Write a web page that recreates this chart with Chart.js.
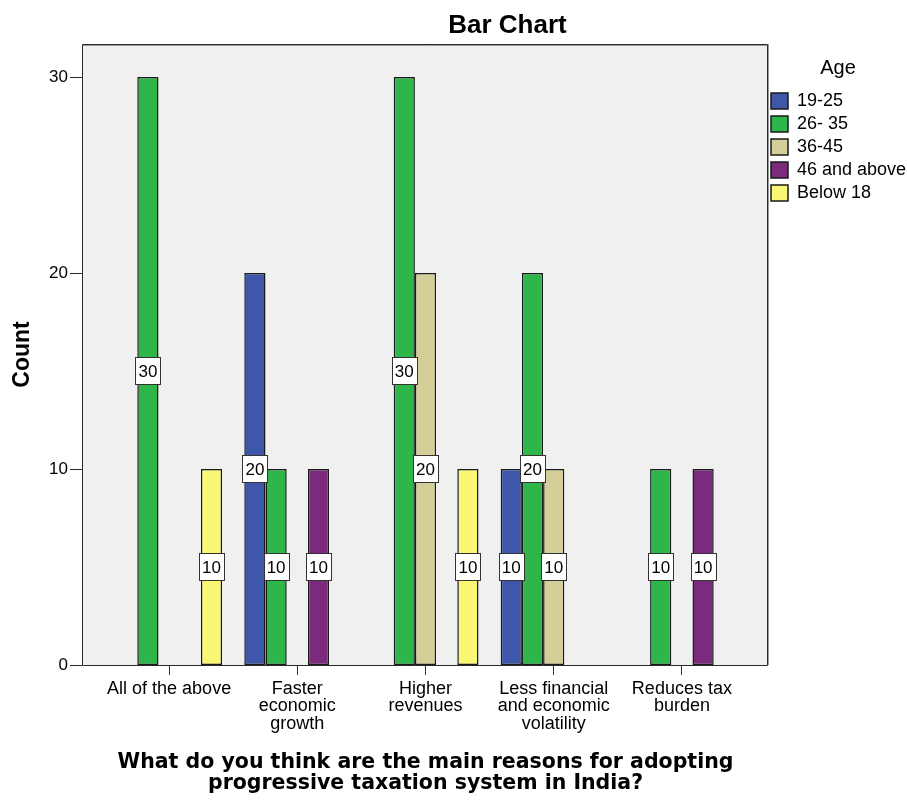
<!DOCTYPE html>
<html>
<head>
<meta charset="utf-8">
<script src="https://cdn.jsdelivr.net/npm/chart.js@4/dist/chart.umd.min.js"></script>
<style>
  html, body { margin: 0; padding: 0; background: #ffffff; }
  #wrap { width: 907px; height: 800px; }
</style>
</head>
<body>
<div id="wrap"><canvas id="c" width="907" height="800"></canvas></div>
<script>
// Survey answers: reasons for adopting progressive taxation, counted by age group
const categories = [
  'All of the above',
  ['Faster', 'economic', 'growth'],
  ['Higher', 'revenues'],
  ['Less financial', 'and economic', 'volatility'],
  ['Reduces tax', 'burden']
];
const ageGroups = ['19-25', '26- 35', '36-45', '46 and above', 'Below 18'];

const count19to25   = [0, 20, 0, 10, 0];
const count26to35   = [30, 10, 30, 20, 10];
const count36to45   = [0, 0, 20, 10, 0];
const count46plus   = [0, 10, 0, 0, 10];
const countBelow18  = [10, 0, 10, 0, 0];

const yTickValues = [0, 10, 20, 30];

const seriesValues = [count19to25, count26to35, count36to45, count46plus, countBelow18];
const seriesColors = ['#3e57ab', '#2fb64a', '#d4cf98', '#7b2a7d', '#faf774'];

const SANS = "'Liberation Sans', Arial, sans-serif";
const FRAME_EXTRA_LEFT = 23;
const FRAME_EXTRA_RIGHT = 22;
const Y_TOP = 31.68;

// Grey plot frame, its border and the value-axis tick marks
const framePlugin = {
  id: 'frame',
  beforeDatasetsDraw(chart) {
    const { ctx, chartArea: a } = chart;
    const l = a.left - FRAME_EXTRA_LEFT, r = a.right + FRAME_EXTRA_RIGHT;
    ctx.save();
    ctx.fillStyle = '#f0f0f0';
    ctx.fillRect(l, a.top, r - l, a.bottom - a.top);
    ctx.restore();
  },
  afterDatasetsDraw(chart) {
    const { ctx, chartArea: a, scales } = chart;
    const l = Math.round(a.left - FRAME_EXTRA_LEFT), r = Math.round(a.right + FRAME_EXTRA_RIGHT);
    const t = Math.round(a.top), b = Math.round(a.bottom);
    ctx.save();
    ctx.lineWidth = 1;
    // soft shadow on top and right edges
    ctx.strokeStyle = '#9a9a9a';
    ctx.beginPath();
    ctx.moveTo(l, t + 1.5); ctx.lineTo(r - 1, t + 1.5);
    ctx.moveTo(r + 0.5, t); ctx.lineTo(r + 0.5, b);
    ctx.stroke();
    ctx.strokeStyle = '#2a2a2a';
    ctx.beginPath();
    ctx.moveTo(l + 0.5, t + 0.5); ctx.lineTo(r - 0.5, t + 0.5);
    ctx.lineTo(r - 0.5, b + 0.5); ctx.lineTo(l + 0.5, b + 0.5); ctx.closePath();
    ctx.stroke();
    // tick marks on the value axis
    const ys = scales.y;
    ys.ticks.forEach(tk => {
      const y = Math.round(ys.getPixelForValue(tk.value)) + 0.5;
      ctx.beginPath();
      ctx.moveTo(l - 12, y); ctx.lineTo(l, y);
      ctx.stroke();
    });
    ctx.restore();
  }
};

// Boxed count labels placed at mid-height of each bar
const valueLabelPlugin = {
  id: 'valueLabels',
  afterDatasetsDraw(chart) {
    const { ctx } = chart;
    ctx.save();
    ctx.font = '17px ' + SANS;
    ctx.textAlign = 'center';
    ctx.textBaseline = 'middle';
    chart.data.datasets.forEach((ds, i) => {
      const meta = chart.getDatasetMeta(i);
      meta.data.forEach((el, j) => {
        const v = ds.data[j];
        if (!v) return;
        const text = String(v);
        const w = Math.round(ctx.measureText(text).width + 6);
        const h = 27;
        const cx = el.x, cy = (el.y + el.base) / 2;
        const x0 = Math.round(cx - w / 2) + 0.5, y0 = Math.round(cy - h / 2) + 0.5;
        ctx.fillStyle = '#ffffff';
        ctx.fillRect(x0, y0, w, h);
        ctx.strokeStyle = '#333333';
        ctx.lineWidth = 1;
        ctx.strokeRect(x0, y0, w, h);
        ctx.fillStyle = '#000000';
        ctx.fillText(text, cx, cy + 1);
      });
    });
    ctx.restore();
  }
};

// Fixed-width legend column and title placement
const LEGEND_WIDTH = 161;
const layoutPlugin = {
  id: 'layoutTweaks',
  beforeLayout(chart) {
    const lg = chart.legend;
    if (lg && !lg._fixedWidth) {
      const fit = lg.fit.bind(lg);
      lg.fit = function () { fit(); this.width = LEGEND_WIDTH; };
      lg._fixedWidth = true;
    }
  },
  afterLayout(chart) {
    const lg = chart.legend;
    if (lg) {
      lg.left = 766; lg.width = 144; lg.right = lg.left + lg.width;
      lg.top = 58;
    }
    const tb = chart.titleBlock;
    if (tb) {
      tb.left = 54; tb.right = 907 + 54;
    }
  }
};

const datasets = ageGroups.map((name, i) => ({
  label: name,
  data: seriesValues[i],
  backgroundColor: seriesColors[i],
  borderColor: '#1a1a1a',
  borderWidth: 1.5,
  borderSkipped: false,
  categoryPercentage: 0.827,
  barPercentage: 1.0
}));

new Chart(document.getElementById('c'), {
  type: 'bar',
  data: { labels: categories, datasets },
  plugins: [framePlugin, valueLabelPlugin, layoutPlugin],
  options: {
    responsive: false,
    animation: false,
    devicePixelRatio: 1,
    layout: { padding: 0 },
    plugins: {
      tooltip: { enabled: false },
      title: {
        display: true,
        text: 'Bar Chart',
        color: '#000000',
        font: { family: SANS, size: 26, weight: 'bold', lineHeight: 1.2 },
        padding: { top: 10.4, bottom: 2.4 }
      },
      legend: {
        display: true,
        position: 'right',
        align: 'start',
        title: {
          display: true,
          text: 'Age',
          color: '#000000',
          font: { family: SANS, size: 20 },
          padding: { top: 0, bottom: 5 }
        },
        labels: {
          color: '#000000',
          font: { family: SANS, size: 18 },
          boxWidth: 17,
          boxHeight: 16,
          padding: 5
        }
      }
    },
    scales: {
      x: {
        type: 'category',
        offset: true,
        afterFit(scale) { scale.height = 135; },
        grid: {
          display: true,
          drawOnChartArea: false,
          drawTicks: true,
          tickLength: 10,
          offset: false,
          color: '#333333'
        },
        border: { display: false },
        ticks: {
          color: '#000000',
          font: { family: SANS, size: 18, lineHeight: 0.97 },
          padding: 5,
          maxRotation: 0,
          autoSkip: false
        },
        title: {
          display: true,
          text: ['What do you think are the main reasons for adopting', 'progressive taxation system in India?'],
          color: '#000000',
          font: { family: "'DejaVu Sans', sans-serif", size: 20.5, weight: 'bold', lineHeight: 1.03 },
          padding: { top: 0, bottom: 6 }
        }
      },
      y: {
        min: 0,
        max: Y_TOP,
        afterFit(scale) {
          scale.width = 105;
          // the wide label gap should not push the plot area down
          scale.paddingTop = 0;
          scale.paddingBottom = 0;
        },
        afterBuildTicks(scale) {
          scale.ticks = yTickValues.map(v => ({ value: v }));
        },
        grid: { display: false, drawTicks: false },
        border: { display: false },
        ticks: {
          color: '#000000',
          font: { family: SANS, size: 17 },
          padding: 37
        },
        title: {
          display: true,
          text: 'Count',
          color: '#000000',
          font: { family: SANS, size: 23, weight: 'bold', lineHeight: 1.2 },
          padding: { top: 9, bottom: 0 }
        }
      }
    }
  }
});
</script>
</body>
</html>
